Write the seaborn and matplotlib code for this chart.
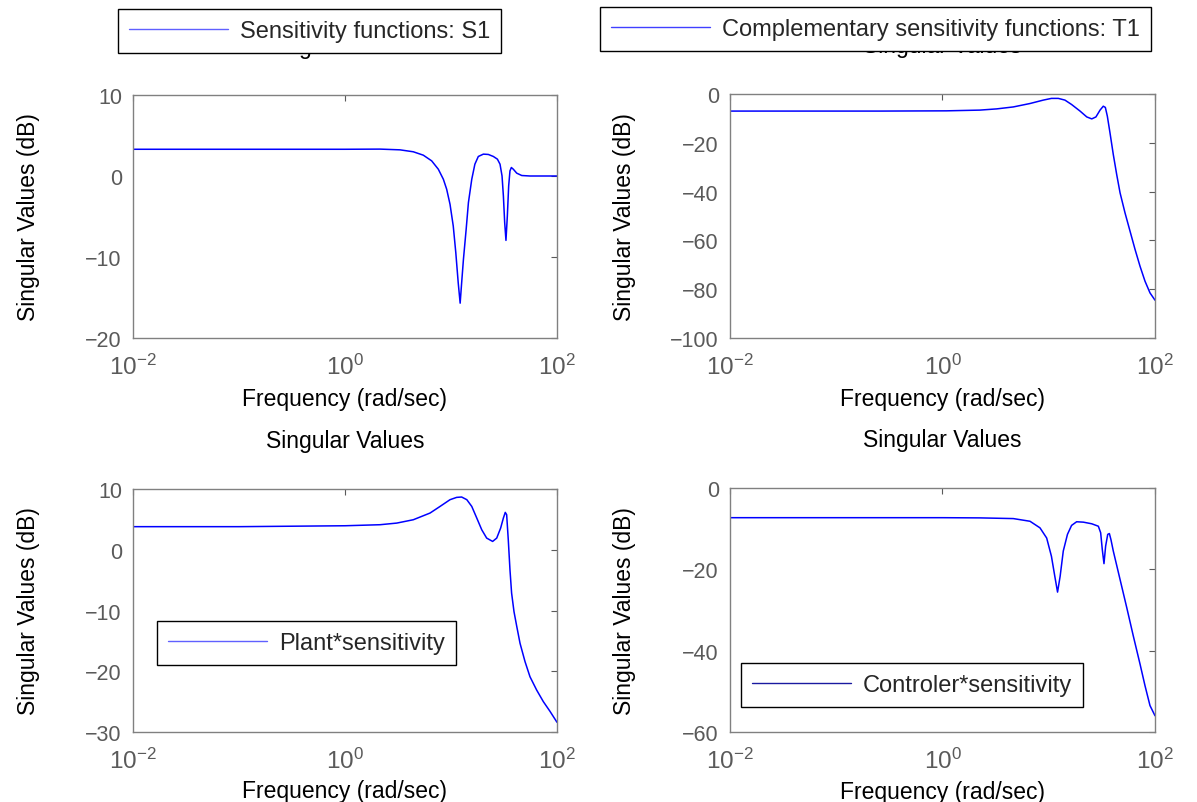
import numpy as np
import pandas as pd
import seaborn as sns
import matplotlib
matplotlib.use('Agg')
import matplotlib.pyplot as plt

# Giá trị (tần số rad/s, biên độ dB)
s1_freq = [0.01, 0.1, 1.0, 2.14, 3.30, 4.41, 5.48, 6.57, 7.59, 8.47, 9.10, 9.79, 10.5, 11.1, 11.7,
           12.2, 12.6, 13.1, 13.9, 14.6, 15.7, 16.8, 18.1, 20.2, 22.5, 25.1, 27.4, 29.0, 30.3,
           31.2, 32.1, 33.0, 34.0, 35.0, 36.0, 37.1, 38.7, 41.7, 46.5, 55.6, 100]
s1_db = [3.3, 3.3, 3.3, 3.32, 3.23, 2.99, 2.57, 1.87, 0.84, -0.40, -1.63, -3.49, -6.17, -9.47, -13.2,
         -15.7, -13.2, -10.3, -6.58, -3.28, -0.40, 1.46, 2.41, 2.70, 2.66, 2.41, 2.08, 1.46, 0.01,
         -2.46, -5.76, -7.95, -4.94, -1.22, 0.63, 1.05, 0.84, 0.35, 0.06, 0.0, 0.0]

t1_freq = [0.01, 0.1, 0.258, 1.09, 2.25, 3.24, 4.64, 6.66, 8.89, 10.6, 12.3, 14.2, 16.4, 19.7,
           22.8, 25.4, 27.8, 30.4, 32.6, 34.1, 35.6, 37.7, 40.5, 43.6, 46.9, 52.2, 58.2, 64.9,
           72.3, 80.5, 89.7, 100]
t1_db = [-7.0, -7.0, -7.0, -6.9, -6.6, -6.1, -5.3, -3.9, -2.5, -1.8, -1.8, -2.5, -4.3, -7.0,
         -9.4, -10.2, -9.4, -6.6, -5.0, -5.5, -9.1, -15.9, -24.8, -33.0, -40.5, -48.7, -56.2, -63.7,
         -70.6, -76.7, -81.5, -84.5]

ps_freq = [0.01, 0.1, 1.0, 2.14, 3.08, 4.41, 6.34, 7.88, 9.79, 11.3, 12.6, 14.1, 15.7, 17.5,
           19.5, 21.7, 24.7, 27.0, 29.4, 31.2, 32.5, 33.5, 34.7, 36.0, 37.3, 39.3, 41.7, 44.8,
           49.9, 55.6, 64.3, 74.3, 85.9, 100]
ps_db = [3.8, 3.8, 3.95, 4.12, 4.39, 4.94, 6.04, 7.13, 8.24, 8.62, 8.68, 8.24, 7.13, 5.22,
         3.29, 1.92, 1.37, 1.92, 3.57, 5.22, 6.15, 5.77, 1.65, -3.29, -7.13, -10.2, -12.6, -15.4,
         -18.4, -20.9, -23.1, -25.0, -26.6, -28.4]

cs_freq = [0.01, 0.1, 1.0, 2.25, 4.64, 6.66, 8.27, 9.56, 10.6, 11.4, 12.1, 12.8, 13.7, 15.0,
           16.4, 18.3, 21.2, 25.4, 29.3, 30.8, 31.9, 33.1, 34.3, 35.9, 37.2, 38.5, 40.5, 46.9,
           54.2, 62.5, 72.3, 80.5, 89.7, 100]
cs_db = [-7.3, -7.3, -7.3, -7.35, -7.52, -8.18, -9.8, -12.3, -16.8, -21.7, -25.6, -21.7, -15.5, -11.4,
         -9.2, -8.3, -8.4, -8.8, -9.4, -11.0, -15.1, -18.6, -14.3, -11.4, -11.2, -12.7, -15.5, -22.5,
         -29.4, -36.4, -43.3, -48.6, -53.5, -56.0]

labels = ['Sensitivity functions: S1', 'Complementary sensitivity functions: T1',
          'Plant*sensitivity', 'Controler*sensitivity']

sns.set_theme(style='white')
plt.rcParams['font.family'] = ['Liberation Sans', 'DejaVu Sans']

grey = '#5a5a5a'
fs = 16.5

fig = plt.figure(figsize=(11.97, 8.03), dpi=100)

# vị trí các trục (theo pixel của ảnh gốc)
panels = [
    dict(rect=[133/1197, 1-339/803, 424/1197, 243/803], f=s1_freq, d=s1_db, ylim=(-20, 10),
         yt=[-20, -10, 0, 10], leg=(118/1197, 1-10/803), lc='#6060ff', xl=-0.2),
    dict(rect=[730/1197, 1-339/803, 425/1197, 244/803], f=t1_freq, d=t1_db, ylim=(-100, 0),
         yt=[-100, -80, -60, -40, -20, 0], leg=(600/1197, 1-8/803), lc='#4040ff', xl=-0.2),
    dict(rect=[133/1197, 1-733/803, 424/1197, 243/803], f=ps_freq, d=ps_db, ylim=(-30, 10),
         yt=[-30, -20, -10, 0, 10], leg=(157/1197, 1-622/803), lc='#6060ff', xl=-0.195),
    dict(rect=[730/1197, 1-733/803, 425/1197, 244/803], f=cs_freq, d=cs_db, ylim=(-60, 0),
         yt=[-60, -40, -20, 0], leg=(741/1197, 1-664/803), lc='#1a1aa0', xl=-0.195),
]

for p, lab in zip(panels, labels):
    ax = fig.add_axes(p['rect'])
    df = pd.DataFrame({'freq': p['f'], 'db': p['d']})
    sns.lineplot(data=df, x='freq', y='db', ax=ax, color='blue', linewidth=1.1,
                 estimator=None, sort=False, legend=False)
    ax.set_xscale('log')
    ax.set_xlim(1e-2, 1e2)
    ax.set_ylim(*p['ylim'])
    ax.set_xticks([1e-2, 1e0, 1e2])
    ax.minorticks_off()
    ax.set_yticks(p['yt'])
    ax.tick_params(direction='in', length=4, width=0.8, colors=grey,
                   top=True, right=True, labelcolor=grey)
    ax.tick_params(axis='x', labelsize=17.5, pad=11)
    ax.tick_params(axis='y', labelsize=15.5, pad=8)
    for sp in ax.spines.values():
        sp.set_color('#808080')
        sp.set_linewidth(1.0)
    ax.set_xlabel('Frequency (rad/sec)', fontsize=fs, color='black')
    ax.set_ylabel('Singular Values (dB)', fontsize=fs, color='black')
    ax.xaxis.set_label_coords(0.5, p['xl'])
    ax.yaxis.set_label_coords(-0.22, 0.5)
    ax.set_title('Singular Values', fontsize=fs, color='black', pad=30)
    h = plt.Line2D([], [], color=p['lc'], linewidth=1.0)
    leg = ax.legend([h], [lab], loc='upper left', bbox_to_anchor=p['leg'],
                    bbox_transform=fig.transFigure, borderaxespad=0, fontsize=17,
                    frameon=True, fancybox=False, framealpha=1, edgecolor='black',
                    handlelength=4.2, handletextpad=0.5, borderpad=0.47)
    leg.get_frame().set_linewidth(1.0)
    leg.set_zorder(10)

fig.savefig('out.png', dpi=100)
